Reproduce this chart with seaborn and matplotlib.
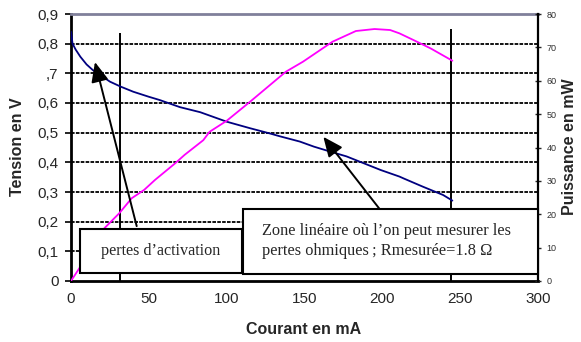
import numpy as np
import pandas as pd
import matplotlib
matplotlib.use("Agg")
import matplotlib.pyplot as plt
import seaborn as sns
from matplotlib.patches import Rectangle

# ---- data ----
courant_v = [0, 1, 3, 6, 10, 14, 20, 25, 32, 40, 50, 57, 70, 83, 100, 115, 128, 134,
             147, 156, 166, 177, 188, 199, 211, 214, 226, 239, 245]
tension = [0.84, 0.80, 0.78, 0.756, 0.73, 0.711, 0.69, 0.672, 0.655, 0.638, 0.621, 0.61,
           0.586, 0.569, 0.537, 0.515, 0.497, 0.488, 0.470, 0.453, 0.437, 0.42, 0.397,
           0.374, 0.352, 0.345, 0.318, 0.29, 0.271]

courant_p = [0, 7, 13, 21, 31, 39, 47, 54, 67, 73, 85, 89, 100, 115, 138, 149, 168, 183,
             195, 205, 211, 220, 231, 245]
puissance = [0, 5.0, 9.5, 15.6, 20.3, 24.8, 27.3, 30.3, 35.3, 37.8, 42.2, 44.7, 48.0, 53.7,
             62.7, 65.7, 71.7, 74.9, 75.5, 75.2, 74.2, 72.2, 69.7, 66.0]

x_ticks = [0, 50, 100, 150, 200, 250, 300]
y_ticks = [0, 0.1, 0.2, 0.3, 0.4, 0.5, 0.6, 0.7, 0.8, 0.9]
y_labels = ["0", "0,1", "0,2", "0,3", "0,4", "0,5", "0,6", ",7", "0,8", "0,9"]
y2_ticks = [0, 10, 20, 30, 40, 50, 60, 70, 80]

txt_activation = "pertes d\u2019activation"
txt_ohm = "Zone lin\u00e9aire o\u00f9 l\u2019on peut mesurer les\npertes ohmiques\u2009; Rmesur\u00e9e=1.8 \u03a9"

df_v = pd.DataFrame({"Courant": courant_v, "Tension": tension})
df_p = pd.DataFrame({"Courant": courant_p, "Puissance": puissance})

sns.set_style("white")
plt.rcParams["font.family"] = ["Liberation Sans", "DejaVu Sans"]

W, H = 581, 342
fig = plt.figure(figsize=(W / 100, H / 100), dpi=100)
L, R, T, B = 71, 538, 14, 281
ax = fig.add_axes([L / W, 1 - B / H, (R - L) / W, (B - T) / H])
ax.set_facecolor("white")

sns.lineplot(data=df_v, x="Courant", y="Tension", ax=ax, color="#000080", lw=1.3,
             sort=False, estimator=None, zorder=3)
ax.set_xlim(0, 300)
ax.set_ylim(0, 0.9)
ax.set_xticks(x_ticks)
ax.set_xticklabels([str(v) for v in x_ticks], fontsize=11)
ax.set_yticks(y_ticks)
ax.set_yticklabels(y_labels, fontsize=11)
ax.set_xlabel("")
ax.set_ylabel("")
for yv in y_ticks[1:-1]:
    ax.axhline(yv, color="black", lw=1.3, ls=(0, (2, 0.7)), zorder=1)

ax.tick_params(axis="y", direction="out", length=4, width=1.2, color="black", pad=5)
ax.tick_params(axis="x", direction="out", length=4, width=1.2, color="black", pad=4)
for s in ["left", "bottom"]:
    ax.spines[s].set_color("black")
    ax.spines[s].set_linewidth(2)
ax.spines["top"].set_color("#80809a")
ax.spines["top"].set_linewidth(2)
ax.spines["right"].set_visible(False)

# vertical markers
ax.vlines(31.5, 0, 0.836, color="black", lw=1.4, zorder=2)
ax.vlines(244, 0, 0.848, color="black", lw=1.4, zorder=2)

ax2 = ax.twinx()
sns.lineplot(data=df_p, x="Courant", y="Puissance", ax=ax2, color="#FF00FF", lw=1.3,
             sort=False, estimator=None, zorder=3)
ax2.set_ylim(0, 80)
ax2.set_xlim(0, 300)
ax2.set_yticks(y2_ticks)
ax2.set_yticklabels([str(v) for v in y2_ticks], fontsize=6.5, color="#303030")
ax2.set_ylabel("")
ax2.tick_params(axis="y", direction="inout", length=4, width=1.0, pad=4)
for s in ["left", "bottom", "top"]:
    ax2.spines[s].set_visible(False)
ax2.spines["right"].set_color("black")
ax2.spines["right"].set_linewidth(1.6)

# text boxes (data coords of the voltage axis)
box1 = Rectangle((5.8, 0.027), 104.0, 0.148, transform=ax.transData, facecolor="white",
                 edgecolor="black", lw=1.5, zorder=10, clip_on=False)
box2 = Rectangle((110.4, 0.024), 189.6, 0.219, transform=ax.transData, facecolor="white",
                 edgecolor="black", lw=1.5, zorder=10, clip_on=False)
ax2.add_patch(box1)
ax2.add_patch(box2)
ax2.text(57.5, 0.101, txt_activation, transform=ax.transData, ha="center", va="center",
         fontsize=11.6, family=["Liberation Serif", "DejaVu Serif"], zorder=11)
ax2.text(123, 0.135, txt_ohm, transform=ax.transData, ha="left", va="center",
         fontsize=11.8, family=["Liberation Serif", "DejaVu Serif"], zorder=11,
         linespacing=1.3)

# arrows
arrow_kw = dict(arrowstyle="-|>,head_length=0.8,head_width=0.35", color="black", lw=1.4,
                mutation_scale=15, shrinkA=0, shrinkB=0)
ax2.annotate("", xy=(15.4, 0.738), xytext=(42.2, 0.185), xycoords=ax.transData,
             textcoords=ax.transData, arrowprops=arrow_kw, zorder=9)
ax2.annotate("", xy=(162.1, 0.486), xytext=(198.5, 0.241), xycoords=ax.transData,
             textcoords=ax.transData, arrowprops=arrow_kw, zorder=9)

# axis titles
fig.text(18 / W, 1 - 147 / H, "Tension en V", rotation=90, ha="center", va="center",
         fontsize=11.5, fontweight="bold")
fig.text(304 / W, 1 - 329 / H, "Courant en mA", ha="center", va="center",
         fontsize=11.5, fontweight="bold")
fig.text(569 / W, 1 - 147 / H, "Puissance en mW", rotation=90, ha="center", va="center",
         fontsize=11.5, fontweight="bold")

fig.savefig("out.png", dpi=100)
